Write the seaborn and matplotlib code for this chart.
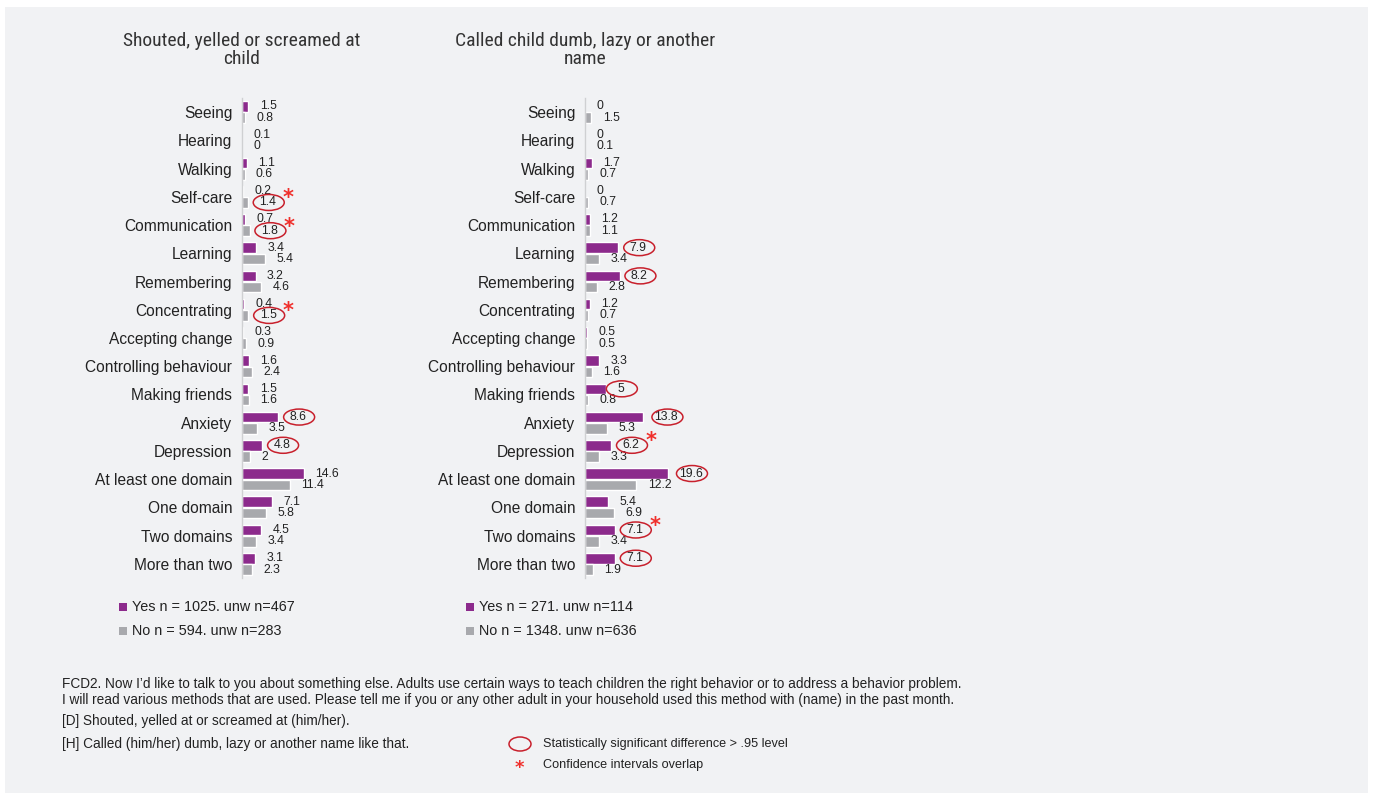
import matplotlib
matplotlib.use("Agg")
import matplotlib.pyplot as plt
from matplotlib import font_manager
from matplotlib.patches import Ellipse, Rectangle
import seaborn as sns
import pandas as pd

categories = ["Seeing", "Hearing", "Walking", "Self-care", "Communication", "Learning",
              "Remembering", "Concentrating", "Accepting change", "Controlling behaviour",
              "Making friends", "Anxiety", "Depression", "At least one domain",
              "One domain", "Two domains", "More than two"]

left_yes = [1.5, 0.1, 1.1, 0.2, 0.7, 3.4, 3.2, 0.4, 0.3, 1.6, 1.5, 8.6, 4.8, 14.6, 7.1, 4.5, 3.1]
left_no = [0.8, 0, 0.6, 1.4, 1.8, 5.4, 4.6, 1.5, 0.9, 2.4, 1.6, 3.5, 2, 11.4, 5.8, 3.4, 2.3]
right_yes = [0, 0, 1.7, 0, 1.2, 7.9, 8.2, 1.2, 0.5, 3.3, 5, 13.8, 6.2, 19.6, 5.4, 7.1, 7.1]
right_no = [1.5, 0.1, 0.7, 0.7, 1.1, 3.4, 2.8, 0.7, 0.5, 1.6, 0.8, 5.3, 3.3, 12.2, 6.9, 3.4, 1.9]

titles = ["Shouted, yelled or screamed at\nchild", "Called child dumb, lazy or another\nname"]
legend_yes = ["Yes n = 1025. unw n=467", "Yes n = 271. unw n=114"]
legend_no = ["No n = 594. unw n=283", "No n = 1348. unw n=636"]

# significance marks: (category index, group)
left_circles = [(3, "No"), (4, "No"), (7, "No"), (11, "Yes"), (12, "Yes")]
left_stars = [(3, "No"), (4, "No"), (7, "No")]
right_circles = [(5, "Yes"), (6, "Yes"), (10, "Yes"), (11, "Yes"), (12, "Yes"), (13, "Yes"), (15, "Yes"), (16, "Yes")]
right_stars = [(12, "Yes"), (15, "Yes")]

footnotes = [
    "FCD2. Now I\u2019d like to talk to you about something else. Adults use certain ways to teach children the right behavior or to address a behavior problem.",
    "I will read various methods that are used. Please tell me if you or any other adult in your household used this method with (name) in the past month.",
    "[D] Shouted, yelled at or screamed at (him/her).",
    "[H] Called (him/her) dumb, lazy or another name like that.",
]
sig_legend = ["Statistically significant difference > .95 level", "Confidence intervals overlap"]

PURPLE = "#8c2a8c"
GREY = "#a8a9ad"
RED_E = "#c8202c"
RED_S = "#f0302c"
BG = "#f1f2f4"
TXT = "#222222"

sns.set_theme(style="white")
available = {f.name for f in font_manager.fontManager.ttflist}
base_font = "Liberation Sans" if "Liberation Sans" in available else "DejaVu Sans"
title_font = base_font
for cand in ["Liberation Sans Narrow", "Roboto Condensed", "Open Sans Condensed", "DejaVu Sans Condensed"]:
    if cand in available:
        title_font = cand
        break
plt.rcParams["font.family"] = [base_font, "DejaVu Sans"]

W, H = 1373, 795
fig = plt.figure(figsize=(W / 100, H / 100), dpi=100)
fig.patch.set_facecolor("white")
fig.add_artist(Rectangle((5 / W, 1 - 793 / H), (1363) / W, (786) / H, transform=fig.transFigure,
                         facecolor=BG, edgecolor="none", zorder=-10))

PXU = 4.22  # pixels per unit
XMAX = 20
ax_specs = [242, 585]
y_top, y_bot = 98, 578


def fx(px):
    return px / W


def fy(py):
    return 1 - py / H


panels = [(left_yes, left_no, left_circles, left_stars), (right_yes, right_no, right_circles, right_stars)]
axes = []
for i, (yes, no, circles, stars) in enumerate(panels):
    x0 = ax_specs[i]
    ax = fig.add_axes([fx(x0), fy(y_bot), (XMAX * PXU) / W, (y_bot - y_top) / H])
    ax.patch.set_alpha(0)
    df = pd.DataFrame({
        "category": categories * 2,
        "group": ["Yes"] * len(categories) + ["No"] * len(categories),
        "value": list(yes) + list(no),
    })
    sns.barplot(data=df, x="value", y="category", hue="group", order=categories,
                hue_order=["Yes", "No"], palette={"Yes": PURPLE, "No": GREY},
                orient="h", width=0.8, gap=0.06, legend=False, ax=ax, errorbar=None,
                saturation=1)
    ax.set_xlim(0, XMAX)
    ax.set_ylim(len(categories) - 0.5, -0.5)
    ax.set_xlabel("")
    ax.set_ylabel("")
    ax.set_xticks([])
    for s in ["top", "right", "bottom"]:
        ax.spines[s].set_visible(False)
    ax.spines["left"].set_color("#cfd0d2")
    ax.spines["left"].set_linewidth(1)
    ax.tick_params(axis="y", length=0, pad=7, labelsize=11.2, labelcolor=TXT)
    for t in ax.get_yticklabels():
        t.set_fontfamily(base_font)

    texts = {}
    for j, cat in enumerate(categories):
        for grp, vals, off in (("Yes", yes, -0.2), ("No", no, 0.2)):
            v = vals[j]
            t = ax.annotate(f"{v:g}", xy=(v, j + off), xytext=(8.2, 0), textcoords="offset points",
                            va="center", ha="left", fontsize=8.8, color=TXT, annotation_clip=False)
            texts[(j, grp)] = t
    axes.append((ax, texts, circles, stars))

    fig.text(fx(x0), fy(50), titles[i], ha="center", va="center", fontsize=14 if title_font != base_font else 12.5,
             family=title_font, color="#333333", linespacing=1.05)

    # legends
    lx = [119, 466][i]
    for k, (lab, col, yy) in enumerate(((legend_yes[i], PURPLE, 607), (legend_no[i], GREY, 631))):
        fig.add_artist(Rectangle((fx(lx), fy(yy + 4)), 8 / W, 8 / H, transform=fig.transFigure,
                                 facecolor=col, edgecolor="none"))
        fig.text(fx(lx + 13), fy(yy), lab, ha="left", va="center", fontsize=10.4, color=TXT)

fig.canvas.draw()
renderer = fig.canvas.get_renderer()
inv = fig.transFigure.inverted()
for ax, texts, circles, stars in axes:
    for key in circles:
        bb = texts[key].get_window_extent(renderer)
        cx, cy = (bb.x0 + bb.x1) / 2 + 1, (bb.y0 + bb.y1) / 2
        fcx, fcy = inv.transform((cx, cy))
        fig.add_artist(Ellipse((fcx, fcy), 31 / W, 16 / H, transform=fig.transFigure,
                               facecolor="none", edgecolor=RED_E, linewidth=1.1))
    for key in stars:
        bb = texts[key].get_window_extent(renderer)
        cx, cy = (bb.x0 + bb.x1) / 2 + 1, (bb.y0 + bb.y1) / 2
        sx, sy = inv.transform((cx + 19, cy + 4))
        fig.text(sx, sy, "*", ha="center", va="center", fontsize=15, color=RED_S,
                 family="DejaVu Sans", fontweight="bold")

# footnotes
for txt, yy in zip(footnotes, [684, 700, 721, 744]):
    fig.text(fx(62), fy(yy), txt, ha="left", va="center", fontsize=9.8, color=TXT)

fig.add_artist(Ellipse((fx(520), fy(744)), 22 / W, 14 / H, transform=fig.transFigure,
                       facecolor="none", edgecolor=RED_E, linewidth=1.1))
fig.text(fx(543), fy(744), sig_legend[0], ha="left", va="center", fontsize=9.1, color=TXT)
fig.text(fx(519), fy(768), "*", ha="center", va="center", fontsize=13, color=RED_S,
         family="DejaVu Sans", fontweight="bold")
fig.text(fx(543), fy(765), sig_legend[1], ha="left", va="center", fontsize=9.1, color=TXT)

fig.savefig("out.png", dpi=100, facecolor="white")
